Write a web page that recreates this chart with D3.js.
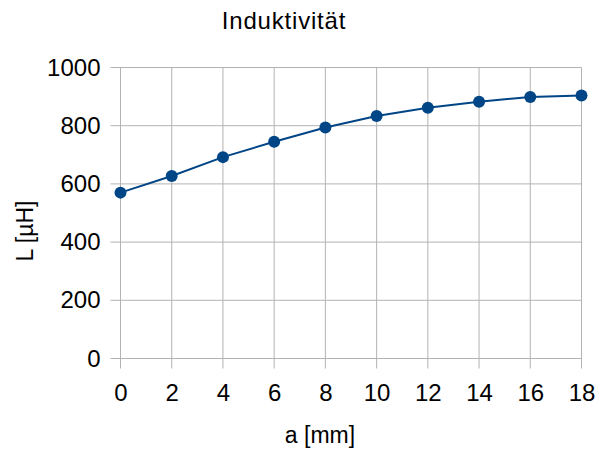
<!DOCTYPE html>
<html>
<head>
<meta charset="utf-8">
<script src="https://cdn.jsdelivr.net/npm/d3@7"></script>
<style>
  body { margin: 0; background: #fff; }
  text { font-family: "Liberation Sans", Arial, sans-serif; fill: #000; }
</style>
</head>
<body>
<div id="chart"></div>
<script>
// values
var aValues = [0, 2, 4, 6, 8, 10, 12, 14, 16, 18];
var lValues = [570, 627, 692, 745, 794, 833, 862, 882, 899, 904];
var xTicks = [0, 2, 4, 6, 8, 10, 12, 14, 16, 18];
var yTicks = [0, 200, 400, 600, 800, 1000];

var margin = {top: 67.5, right: 16, bottom: 91.5, left: 120.5};

var svg = d3.select("#chart")
  .append("svg")
  .attr("width", 598)
  .attr("height", 450);

var g = svg.append("g")
  .attr("transform", "translate(" + margin.left + "," + margin.top + ")");

var x = d3.scaleLinear().domain([0, 18]).range([0, 461]);
var y = d3.scaleLinear().domain([0, 1000]).range([291, 0]);

// grid, with the outward tick stubs
g.selectAll(".hgrid").data(yTicks).enter().append("line")
  .attr("x1", -10).attr("x2", x(18))
  .attr("y1", d => y(d)).attr("y2", d => y(d))
  .attr("stroke", "#b3b3b3").attr("stroke-width", 1);
g.selectAll(".vgrid").data(xTicks).enter().append("line")
  .attr("y1", y(1000)).attr("y2", y(0) + 10)
  .attr("x1", d => x(d)).attr("x2", d => x(d))
  .attr("stroke", "#b3b3b3").attr("stroke-width", 1);

// axes (labels only)
var xAxis = g.append("g")
  .attr("transform", "translate(0," + y(0) + ")")
  .call(d3.axisBottom(x).tickValues(xTicks).tickSize(0).tickPadding(25));
var yAxis = g.append("g")
  .call(d3.axisLeft(y).tickValues(yTicks).tickFormat(d3.format("d")).tickSize(0).tickPadding(20));
[xAxis, yAxis].forEach(function (a) {
  a.select(".domain").remove();
  a.attr("font-size", null).attr("font-family", null);
  a.selectAll("text").style("font-size", "24px").attr("fill", "#000");
});

// line
g.append("path")
  .datum(aValues.map((a, i) => [a, lValues[i]]))
  .attr("fill", "none")
  .attr("stroke", "#004586")
  .attr("stroke-width", 2)
  .attr("d", d3.line().x(d => x(d[0])).y(d => y(d[1])));

g.selectAll(".pt").data(aValues).enter().append("circle")
  .attr("cx", d => x(d))
  .attr("cy", (d, i) => y(lValues[i]))
  .attr("r", 6)
  .attr("fill", "#004586");

// titles
svg.append("text")
  .attr("x", 284).attr("y", 29)
  .attr("text-anchor", "middle")
  .style("font-size", "24px")
  .style("letter-spacing", "0.8px")
  .text("Induktivität");

svg.append("text")
  .attr("x", 320).attr("y", 443)
  .attr("text-anchor", "middle")
  .style("font-size", "23px")
  .text("a [mm]");

svg.append("text")
  .attr("transform", "translate(33,231) rotate(-90)")
  .attr("text-anchor", "middle")
  .style("font-size", "23px")
  .text("L [µH]");
</script>
</body>
</html>
